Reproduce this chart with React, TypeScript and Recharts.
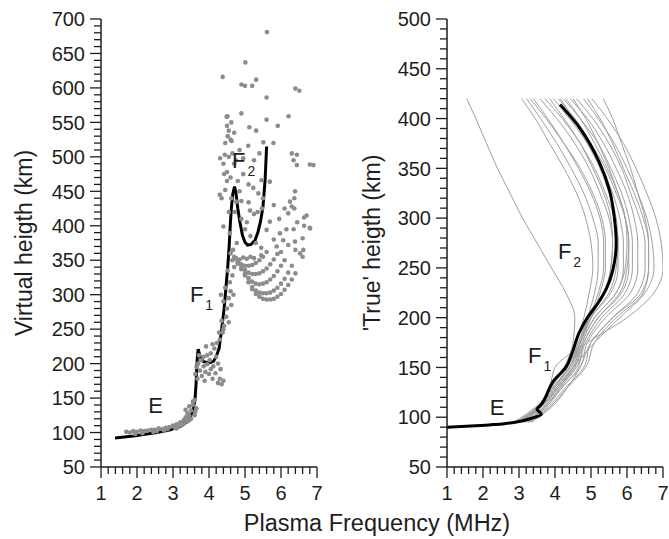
import React from "react";
import { ComposedChart, Scatter, Line, XAxis, YAxis, ReferenceDot } from "recharts";

const FONT = '"Liberation Sans", Arial, Helvetica, sans-serif';
const INK = "#1e1e1e";

// ---- left panel: virtual height (ionogram traces) ----
const virtualDots: [number, number][] = [
  // E trace
  [1.7, 101], [1.8, 100], [1.9, 102], [2.0, 101], [2.1, 103], [2.2, 102], [2.3, 103], [2.4, 104],
  [2.5, 104], [2.6, 106], [2.7, 105], [2.8, 107], [2.9, 108], [3.0, 110], [3.05, 107], [3.1, 112],
  [3.2, 115], [3.25, 111], [3.3, 118], [3.35, 122], [3.4, 116], [3.4, 128], [3.45, 125], [3.5, 132],
  [3.45, 138], [3.55, 140], [3.6, 147], [3.5, 120], [3.65, 135], [3.6, 125], [1.95, 98], [2.15, 99],
  [2.45, 101], [2.75, 103], [3.15, 109], [3.3, 113], [3.55, 145], [3.35, 133], [2.55, 102], [2.85, 105],
  [3.1, 106], [3.45, 118], [3.62, 130],
  // F1 cusp
  [3.62, 185], [3.65, 195], [3.7, 200], [3.68, 178], [3.75, 190], [3.8, 182], [3.78, 205], [3.85, 196],
  [3.9, 188], [3.88, 175], [3.95, 199], [4.0, 185], [4.05, 192], [4.02, 205], [4.1, 178], [4.12, 196],
  [4.18, 186], [4.2, 210], [4.25, 172], [4.3, 178], [4.35, 170], [4.15, 222], [4.05, 215], [3.95, 212],
  [3.85, 210], [4.25, 200], [4.32, 192], [3.72, 212], [4.1, 228], [4.22, 230], [3.92, 225], [4.4, 175],
  // F1 rise
  [4.3, 235], [4.38, 245], [4.42, 255], [4.35, 262], [4.48, 268], [4.5, 280], [4.4, 290], [4.55, 295],
  [4.6, 305], [4.45, 310], [4.58, 318], [4.65, 328], [4.52, 335], [4.7, 340], [4.4, 250], [4.28, 245],
  [4.62, 285], [4.33, 300], [4.68, 300], [4.55, 260],
  // F2 bands
  [5.0, 330], [5.1, 318], [5.2, 308], [5.3, 301], [5.4, 297], [5.5, 294], [5.6, 293], [5.7, 293],
  [5.8, 294], [5.9, 297], [6.0, 301], [6.1, 307], [6.2, 314], [6.3, 322], [6.4, 331],
  [4.9, 338], [5.0, 328], [5.1, 318], [5.2, 311], [5.3, 306], [5.4, 303], [5.5, 302], [5.6, 302],
  [5.7, 303], [5.8, 306], [5.9, 310], [6.0, 316], [6.1, 323], [6.2, 332], [6.3, 342],
  [4.8, 345], [4.9, 337], [5.0, 330], [5.1, 324], [5.2, 319], [5.3, 316], [5.4, 315], [5.5, 316],
  [5.6, 318], [5.7, 322], [5.8, 327], [5.9, 334], [6.0, 342], [6.1, 350],
  [4.7, 355], [4.8, 347], [4.9, 341], [5.0, 336], [5.1, 332], [5.2, 330], [5.3, 330], [5.4, 331],
  [5.5, 334], [5.6, 338], [5.7, 344], [5.8, 351], [5.9, 359],
  [4.6, 360], [4.7, 352], [4.8, 347], [4.9, 344], [5.0, 342], [5.1, 342], [5.2, 343], [5.3, 346],
  [5.4, 350], [5.5, 355], [5.6, 362],
  [4.65, 350], [4.75, 353], [4.85, 351], [4.95, 354], [5.05, 352], [5.15, 355], [5.25, 353], [5.45, 357],
  // scattered F2
  [4.67, 365], [4.77, 375], [4.4, 399], [4.58, 389], [4.35, 440], [4.3, 445], [4.45, 452], [4.76, 435],
  [4.9, 436], [5.1, 434], [5.14, 422], [5.25, 417], [5.35, 420], [5.47, 425], [5.46, 466], [5.69, 464],
  [5.23, 455], [5.37, 447], [6.39, 450], [6.25, 435], [6.3, 428], [6.1, 425], [6.2, 418], [6.71, 415],
  [6.81, 396], [5.69, 406], [5.6, 394], [5.97, 389], [6.06, 379], [6.39, 377], [6.53, 360], [6.62, 365],
  [5.88, 370], [5.0, 395], [5.15, 385], [5.3, 375], [5.45, 368], [4.9, 410], [5.05, 405], [5.8, 380],
  [6.0, 362], [6.2, 372], [6.35, 395], [6.45, 405], [6.6, 382], [4.55, 420], [4.6, 470], [4.5, 478],
  [4.7, 490], [4.8, 465], [4.95, 475], [5.1, 460], [4.85, 450], [4.62, 440], [4.72, 420], [5.5, 440],
  [5.8, 430], [5.95, 410], [6.15, 395], [6.37, 440], [6.37, 425], [6.64, 412], [6.64, 400], [6.8, 397],
  [6.4, 365], [6.6, 355], [6.9, 488], [6.8, 489],
  // upper sparse
  [5.61, 681], [5.01, 637], [4.38, 616], [4.9, 605], [5.0, 603], [5.2, 603], [5.31, 612], [6.4, 599],
  [6.51, 596], [5.6, 586], [4.51, 559], [4.9, 563], [5.6, 554], [5.91, 545], [6.21, 559], [4.49, 558],
  [4.5, 545], [4.55, 538], [4.62, 550], [4.52, 530], [4.6, 525], [4.45, 520], [4.7, 535], [5.12, 543],
  [5.31, 538], [5.09, 516], [5.51, 521], [5.79, 520], [4.31, 498], [4.44, 503], [4.63, 523], [6.3, 505],
  [6.44, 503], [6.44, 488], [6.35, 495], [4.4, 490], [4.55, 500], [4.65, 505], [4.75, 495], [4.85, 510],
  [4.95, 498], [5.25, 495], [5.4, 505], [4.5, 465], [4.42, 475],
];

const virtualCurve: [number, number][] = [
  [1.39, 92], [1.9, 95], [2.55, 100], [2.9, 103.5], [3.19, 108.5], [3.35, 114], [3.47, 121], [3.55, 132],
  [3.61, 147], [3.64, 170], [3.66, 195], [3.68, 212], [3.7, 221], [3.76, 209], [3.84, 203], [3.98, 201],
  [4.12, 203], [4.2, 210], [4.28, 222], [4.35, 249], [4.42, 280], [4.47, 310], [4.52, 340], [4.56, 370],
  [4.59, 400], [4.62, 425], [4.66, 446], [4.71, 457], [4.75, 447], [4.8, 425], [4.86, 405], [4.93, 386],
  [5.0, 376], [5.07, 372], [5.17, 373], [5.28, 379], [5.36, 391], [5.43, 406], [5.5, 428], [5.56, 468],
  [5.6, 515],
];

// ---- right panel: true height profiles ----
const trueHeights = [95, 110, 130, 150, 175, 200, 225, 250, 275, 300, 325, 350, 375, 400, 420];

const trueProfiles: number[][] = [
  [2.85, 3.45, 3.9, 4.25, 4.5, 4.55, 4.3, 3.9, 3.5, 3.1, 2.75, 2.4, 2.1, 1.8, 1.55],
  [2.9, 3.5, 3.9, 4.3, 4.6, 4.8, 4.95, 5.05, 5.0, 4.85, 4.6, 4.25, 3.85, 3.45, 3.07],
  [2.95, 3.5, 3.95, 4.35, 4.65, 4.9, 5.1, 5.2, 5.2, 5.05, 4.8, 4.45, 4.05, 3.6, 3.21],
  [3.0, 3.55, 4.0, 4.4, 4.7, 5.0, 5.25, 5.4, 5.4, 5.3, 5.05, 4.7, 4.25, 3.75, 3.31],
  [3.0, 3.5, 3.95, 4.4, 4.65, 4.95, 5.2, 5.35, 5.35, 5.25, 5.0, 4.65, 4.25, 3.8, 3.4],
  [3.05, 3.6, 4.05, 4.45, 4.7, 4.95, 5.4, 5.55, 5.6, 5.5, 5.25, 4.95, 4.55, 4.05, 3.58],
  [3.05, 3.5, 3.95, 4.4, 4.7, 5.0, 5.55, 5.75, 5.75, 5.65, 5.4, 5.1, 4.7, 4.2, 3.72],
  [3.1, 3.55, 4.0, 4.4, 4.7, 5.0, 5.35, 5.55, 5.6, 5.55, 5.35, 5.05, 4.7, 4.25, 3.85],
  [3.1, 3.6, 4.1, 4.5, 4.75, 5.1, 5.7, 5.9, 5.9, 5.8, 5.6, 5.3, 4.9, 4.4, 3.95],
  [3.15, 3.65, 4.1, 4.55, 4.8, 5.2, 5.85, 6.05, 6.05, 5.95, 5.7, 5.4, 5.0, 4.55, 4.09],
  [3.15, 3.6, 4.05, 4.5, 4.7, 5.0, 5.5, 5.7, 5.75, 5.7, 5.5, 5.25, 4.9, 4.5, 4.15],
  [3.2, 3.7, 4.15, 4.6, 4.85, 5.3, 5.95, 6.15, 6.15, 6.05, 5.85, 5.55, 5.2, 4.7, 4.23],
  [3.2, 3.7, 4.2, 4.65, 4.8, 5.2, 5.8, 6.0, 6.05, 5.95, 5.75, 5.45, 5.1, 4.7, 4.3],
  [3.25, 3.75, 4.2, 4.7, 4.9, 5.4, 6.1, 6.3, 6.3, 6.2, 6.0, 5.7, 5.35, 4.9, 4.42],
  [3.25, 3.7, 4.15, 4.55, 4.75, 5.1, 5.7, 5.95, 6.0, 5.95, 5.75, 5.5, 5.2, 4.85, 4.5],
  [3.3, 3.8, 4.3, 4.8, 5.0, 5.6, 6.3, 6.5, 6.5, 6.35, 6.1, 5.85, 5.5, 5.05, 4.6],
  [2.95, 3.6, 4.05, 4.5, 5.1, 5.8, 6.5, 6.75, 6.7, 6.55, 6.3, 6.0, 5.65, 5.2, 4.79],
  [3.3, 3.85, 4.35, 4.85, 5.1, 5.7, 6.45, 6.6, 6.6, 6.45, 6.2, 5.9, 5.6, 5.25, 4.9],
  [3.0, 3.55, 3.85, 4.0, 4.9, 6.0, 6.75, 7.0, 6.95, 6.8, 6.55, 6.25, 5.9, 5.45, 5.02],
  [3.35, 3.9, 4.35, 4.7, 5.0, 5.6, 6.4, 6.6, 6.6, 6.5, 6.3, 6.1, 5.85, 5.6, 5.34],
];

const trueMean: [number, number][] = [
  [1.0, 90], [1.8, 91.5], [2.6, 93.5], [3.35, 99], [3.62, 103], [3.5, 108], [3.6, 112], [3.97, 137],
  [4.3, 150], [4.47, 164], [4.66, 184], [4.9, 200], [5.2, 215], [5.45, 231], [5.62, 250], [5.7, 275],
  [5.65, 300], [5.52, 327], [5.22, 357], [4.7, 390], [4.14, 414],
];

// ---- labels ----
const leftNotes = [
  { f: 2.31, h: 128, text: "E", sub: "" },
  { f: 3.47, h: 289, text: "F", sub: "1" },
  { f: 4.64, h: 484, text: "F", sub: "2" },
];
const rightNotes = [
  { f: 2.19, h: 102, text: "E", sub: "" },
  { f: 3.25, h: 154, text: "F", sub: "1" },
  { f: 4.08, h: 259, text: "F", sub: "2" },
];

const range = (a: number, b: number, step: number) =>
  Array.from({ length: Math.round((b - a) / step) + 1 }, (_, i) => +(a + i * step).toFixed(2));

const freqTicks = range(1, 7, 0.2);
const leftHeightTicks = range(50, 700, 10);
const rightHeightTicks = range(50, 500, 10);

const toPts = (arr: [number, number][]) => arr.map(([f, h]) => ({ f, h }));

const YTick = (props: any) => {
  const { x, y, payload } = props;
  const v = payload.value;
  const major = v % 50 === 0;
  return (
    <g>
      <line x1={x - (major ? 11 : 7)} x2={x} y1={y} y2={y} stroke={INK} strokeWidth={1.3} />
      {major && (
        <text x={x - 16} y={y} dy="0.36em" textAnchor="end" fontSize={20} fill={INK} fontFamily={FONT}>
          {v}
        </text>
      )}
    </g>
  );
};

const XTick = (props: any) => {
  const { x, y, payload } = props;
  const v = payload.value;
  const major = Math.abs(v - Math.round(v)) < 1e-6;
  return (
    <g>
      <line x1={x} x2={x} y1={y} y2={y + (major ? 11 : 7)} stroke={INK} strokeWidth={1.3} />
      {major && (
        <text x={x} y={y + 33} textAnchor="middle" fontSize={20} fill={INK} fontFamily={FONT}>
          {Math.round(v)}
        </text>
      )}
    </g>
  );
};

const note = (n: { text: string; sub: string }) => (p: any) => {
  const { x, y } = p.viewBox;
  return (
    <text x={x} y={y} fontSize={22} fill={INK} fontFamily={FONT}>
      {n.text}
      {n.sub && (
        <tspan dx={2} dy={8} fontSize={14}>
          {n.sub}
        </tspan>
      )}
    </text>
  );
};

const yTitle = (text: string, bx: number) => (p: any) => {
  const vb = p.viewBox;
  const cy = vb.y + vb.height / 2;
  return (
    <text
      x={bx}
      y={cy}
      transform={`rotate(-90, ${bx}, ${cy})`}
      textAnchor="middle"
      fontSize={23}
      fill={INK}
      fontFamily={FONT}
    >
      {text}
    </text>
  );
};

const dotShape = (p: any) => <circle cx={p.cx} cy={p.cy} r={2.3} fill="#8c8c8c" />;

const axisLine = { stroke: INK, strokeWidth: 1.5 };

export default function App() {
  return (
    <div style={{ position: "absolute", left: 0, top: 0, width: 669, height: 539, background: "#fff" }}>
      <div style={{ position: "absolute", left: 0, top: 0 }}>
        <ComposedChart width={330} height={539} margin={{ top: 19, right: 13, bottom: 42, left: 0 }}>
          <XAxis
            type="number"
            dataKey="f"
            domain={[1, 7]}
            ticks={freqTicks}
            interval={0}
            tick={<XTick />}
            tickLine={false}
            tickSize={0}
            tickMargin={0}
            axisLine={axisLine}
            height={30}
            allowDataOverflow
          />
          <YAxis
            type="number"
            dataKey="h"
            domain={[50, 700]}
            ticks={leftHeightTicks}
            interval={0}
            tick={<YTick />}
            tickLine={false}
            tickSize={0}
            tickMargin={0}
            axisLine={axisLine}
            width={101}
            allowDataOverflow
            label={{ content: yTitle("Virtual heigth (km)", 32) }}
          />
          <Scatter data={toPts(virtualDots)} shape={dotShape} isAnimationActive={false} />
          <Line
            data={toPts(virtualCurve)}
            dataKey="h"
            type="linear"
            stroke="#000"
            strokeWidth={3}
            dot={false}
            activeDot={false}
            isAnimationActive={false}
          />
          {leftNotes.map((n, i) => (
            <ReferenceDot key={i} x={n.f} y={n.h} r={0} fill="none" stroke="none" label={note(n)} />
          ))}
        </ComposedChart>
      </div>
      <div style={{ position: "absolute", left: 340, top: 0 }}>
        <ComposedChart width={329} height={539} margin={{ top: 19, right: 6, bottom: 42, left: 0 }}>
          <XAxis
            type="number"
            dataKey="f"
            domain={[1, 7]}
            ticks={freqTicks}
            interval={0}
            tick={<XTick />}
            tickLine={false}
            tickSize={0}
            tickMargin={0}
            axisLine={axisLine}
            height={30}
            allowDataOverflow
          />
          <YAxis
            type="number"
            dataKey="h"
            domain={[50, 500]}
            ticks={rightHeightTicks}
            interval={0}
            tick={<YTick />}
            tickLine={false}
            tickSize={0}
            tickMargin={0}
            axisLine={axisLine}
            width={107}
            allowDataOverflow
            label={{ content: yTitle("'True' heigth (km)", 40) }}
          />
          {trueProfiles.map((prof, k) => (
            <Line
              key={k}
              data={trueHeights.map((h, i) => ({ f: prof[i], h }))}
              dataKey="h"
              type="monotoneY"
              stroke="#a0a0a0"
              strokeWidth={1}
              dot={false}
              activeDot={false}
              isAnimationActive={false}
            />
          ))}
          <Line
            data={toPts(trueMean)}
            dataKey="h"
            type="monotoneY"
            stroke="#000"
            strokeWidth={3}
            dot={false}
            activeDot={false}
            isAnimationActive={false}
          />
          {rightNotes.map((n, i) => (
            <ReferenceDot key={i} x={n.f} y={n.h} r={0} fill="none" stroke="none" label={note(n)} />
          ))}
        </ComposedChart>
      </div>
      <svg width={669} height={539} style={{ position: "absolute", left: 0, top: 0, pointerEvents: "none" }}>
        <text x={377} y={531} textAnchor="middle" fontSize={23.5} fill={INK} fontFamily={FONT}>
          Plasma Frequency (MHz)
        </text>
      </svg>
    </div>
  );
}
